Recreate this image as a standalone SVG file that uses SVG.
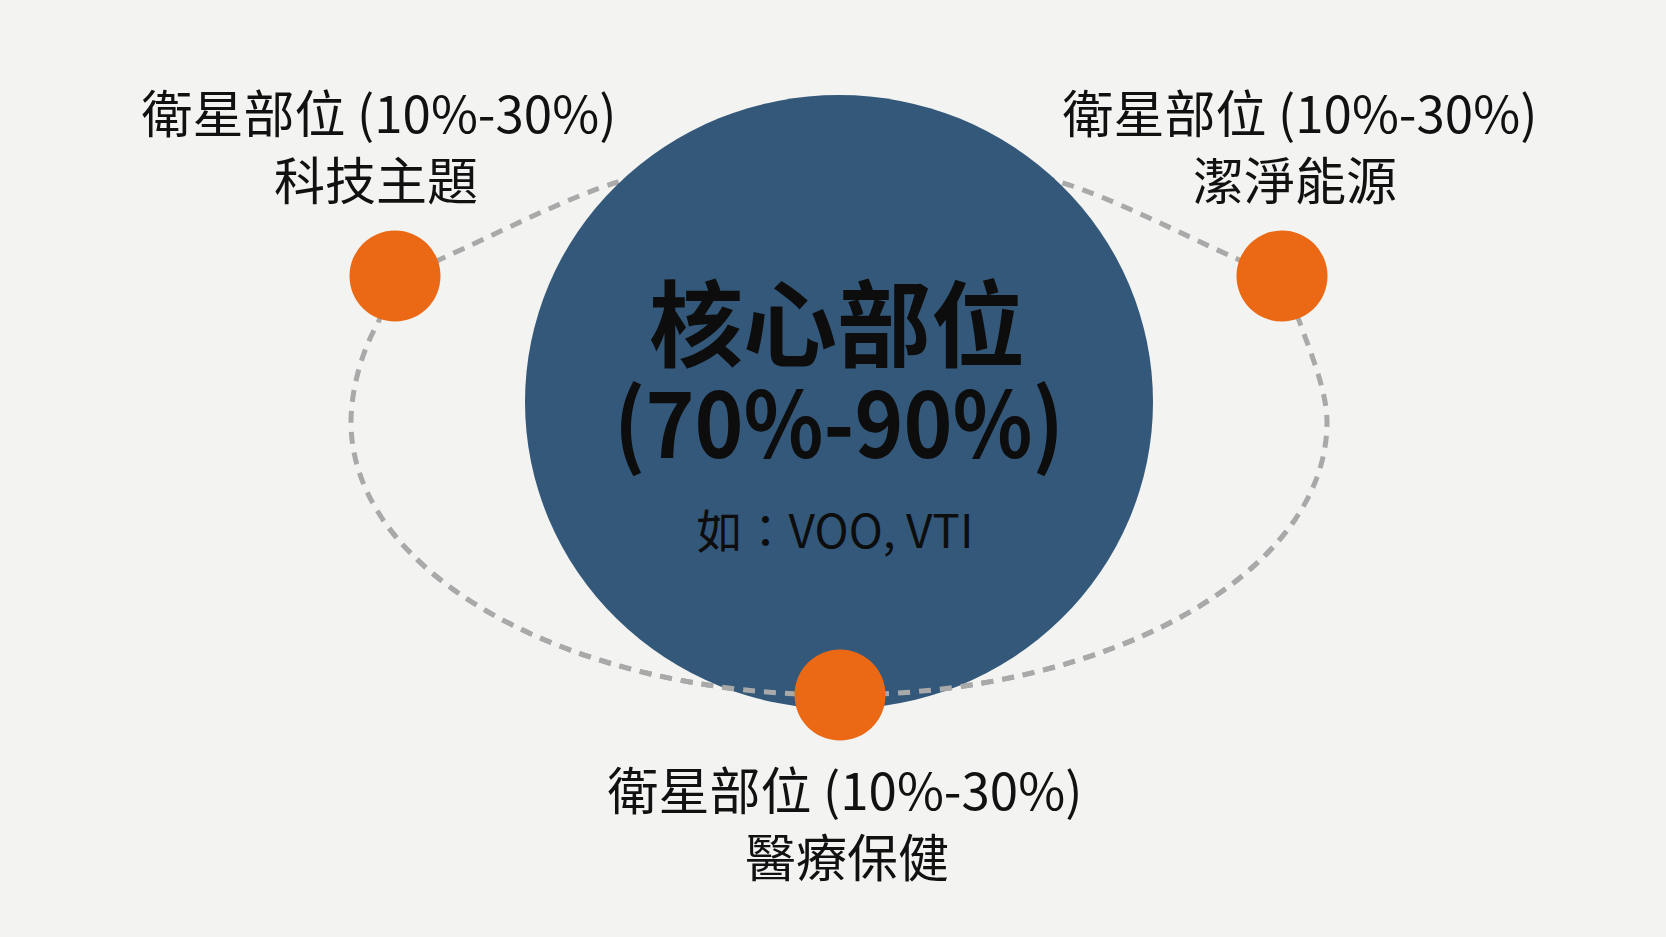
<svg xmlns="http://www.w3.org/2000/svg" width="1666" height="937" viewBox="0 0 1666 937">
  <defs>
    <style>
      .ring { fill: none; stroke: #a9a9a9; stroke-width: 5; stroke-dasharray: 12 9; }
      .sat { fill: #eb6914; }
      .lbl { font-family: "Noto Sans CJK TC", "Noto Sans CJK SC", "Noto Sans", sans-serif; font-size: 51px; fill: #111111; text-anchor: middle; }
      .core-t { font-family: "Noto Sans CJK TC", "Noto Sans CJK SC", "Noto Sans", sans-serif; fill: #0d0d0d; text-anchor: middle; }
    </style>
    <path id="ringPath" d="M839,695 C569,695 351,573 351,422 C351,390 362,350 378,323 C387,297 418,269 443,258 C493,235.5 568,197 618,182 C668,167 760,150 839,150 C918,150 1010,167 1060,182 C1110,197 1185,235.5 1235,258 C1260,269 1291,297 1300,323 C1309,349 1327,390 1327,422 C1327,573 1109,695 839,695 Z"/>
    <clipPath id="frontClip">
      <rect x="0" y="520" width="1666" height="417"/>
    </clipPath>
  </defs>
  <rect x="0" y="0" width="1666" height="937" fill="#f3f3f2"/>

  <g id="connectors">
    <use href="#ringPath" class="ring"/>
  </g>

  <g id="core">
    <ellipse cx="839" cy="402" rx="314" ry="307" fill="#33587a"/>
    <text class="core-t" x="837" y="360" font-size="94" font-weight="bold">核心部位</text>
    <text class="core-t" x="839" y="458" font-size="92" font-weight="bold" textLength="450" lengthAdjust="spacingAndGlyphs">(70%-90%)</text>
    <text class="core-t" x="835" y="548" font-size="46">如：VOO, VTI</text>
  </g>

  <g id="connectors-front" clip-path="url(#frontClip)">
    <use href="#ringPath" class="ring"/>
  </g>

  <g id="sat-tech">
    <circle class="sat" cx="395" cy="276" r="45.5"/>
    <text class="lbl" x="379" y="133">衛星部位 (10%-30%)</text>
    <text class="lbl" x="376" y="200">科技主題</text>
  </g>

  <g id="sat-energy">
    <circle class="sat" cx="1282" cy="276" r="45.5"/>
    <text class="lbl" x="1300" y="133">衛星部位 (10%-30%)</text>
    <text class="lbl" x="1295" y="200">潔淨能源</text>
  </g>

  <g id="sat-health">
    <circle class="sat" cx="840" cy="695" r="45.5"/>
    <text class="lbl" x="845" y="810">衛星部位 (10%-30%)</text>
    <text class="lbl" x="847" y="877">醫療保健</text>
  </g>
</svg>
